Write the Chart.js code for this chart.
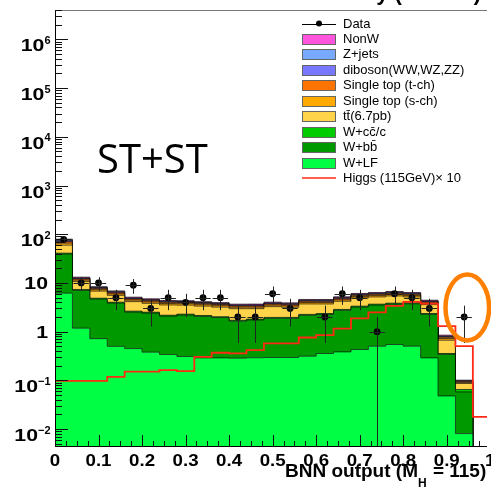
<!DOCTYPE html>
<html><head><meta charset="utf-8">
<script src="https://cdn.jsdelivr.net/npm/chart.js@4.4.1/dist/chart.umd.min.js"></script>
<style>html,body{margin:0;padding:0;background:#fff;overflow:hidden}canvas{display:block}</style>
</head><body>
<canvas id="c" width="491" height="490"></canvas>
<script>
// ---- data (25 bins of width 0.04 on the BNN output) ----
const binEdges = [0,0.04,0.08,0.12,0.16,0.20,0.24,0.28,0.32,0.36,0.40,0.44,0.48,0.52,0.56,0.60,0.64,0.68,0.72,0.76,0.80,0.84,0.88,0.92,0.96,1.00];
const wLF     = [6.17,1.18,0.72,0.50,0.45,0.38,0.34,0.31,0.29,0.29,0.286,0.292,0.295,0.295,0.314,0.357,0.385,0.431,0.504,0.546,0.504,0.290,0.048,0.0081,0];
const wbb     = [33.1,5.88,3.96,3.37,2.08,2.03,1.75,1.89,1.77,1.66,1.36,1.45,1.59,1.59,1.86,1.91,2.37,2.78,3.02,3.15,3.24,1.98,0.295,0.050,0];
const wcc     = [1.64,0.29,0.19,0.16,0.11,0.10,0.09,0.09,0.09,0.08,0.07,0.07,0.08,0.08,0.09,0.09,0.11,0.13,0.15,0.15,0.16,0.09,0.014,0.007,0];
const ttbar   = [18.8,3.30,1.93,1.54,1.50,1.31,1.36,1.22,1.20,1.16,1.25,1.16,1.30,1.20,1.45,1.35,1.34,1.59,1.50,1.57,1.27,1.23,0.312,0.0214,0];
const stopS   = [5.88,0.75,0.48,0.39,0.29,0.27,0.25,0.25,0.23,0.23,0.21,0.21,0.23,0.22,0.26,0.26,0.29,0.35,0.36,0.38,0.36,0.25,0.054,0.0044,0];
const stopT   = [4.90,0.63,0.40,0.33,0.24,0.23,0.21,0.21,0.20,0.19,0.18,0.18,0.19,0.19,0.22,0.22,0.25,0.29,0.30,0.32,0.30,0.21,0.045,0.0037,0];
const diboson = [2.94,0.38,0.24,0.20,0.15,0.14,0.12,0.12,0.12,0.11,0.11,0.11,0.12,0.11,0.13,0.13,0.15,0.17,0.18,0.19,0.18,0.13,0.027,0.0022,0];
const zjets   = [1.96,0.25,0.16,0.13,0.10,0.09,0.08,0.08,0.08,0.08,0.07,0.07,0.08,0.07,0.09,0.09,0.10,0.12,0.12,0.13,0.12,0.08,0.018,0.0015,0];
const nonW    = [3.92,0.50,0.32,0.26,0.19,0.18,0.17,0.16,0.16,0.15,0.14,0.14,0.15,0.15,0.17,0.17,0.20,0.23,0.24,0.25,0.24,0.17,0.036,0.0029,0];
const higgsX10 = [0.098,0.098,0.098,0.118,0.152,0.152,0.162,0.155,0.304,0.37,0.36,0.417,0.573,0.573,0.76,0.848,1.16,1.87,2.48,3.4,4.1,3.75,1.30,0.504,0.0178];
const dataCounts = [78,10,10,5,9,3,5,4,5,5,2,2,6,3,0,2,6,5,1,6,5,3,0,2,0];
const xTickValues = [0,0.1,0.2,0.3,0.4,0.5,0.6,0.7,0.8,0.9,1];
const xTickLabels = ['0','0.1','0.2','0.3','0.4','0.5','0.6','0.7','0.8','0.9','1'];
const yTickDecades = [-2,-1,0,1,2,3,4,5,6];

const stackDefs = [
  {label:'W+LF', values:wLF, color:'#00ff44'},
  {label:'W+b\u0062\u0304', values:wbb, color:'#009a00'},
  {label:'W+c\u0063\u0304/c', values:wcc, color:'#00cc00'},
  {label:'t\u0074\u0304(6.7pb)', values:ttbar, color:'#ffd44a'},
  {label:'Single top (s-ch)', values:stopS, color:'#ffaa00'},
  {label:'Single top (t-ch)', values:stopT, color:'#ff7300'},
  {label:'diboson(WW,WZ,ZZ)', values:diboson, color:'#7777ff'},
  {label:'Z+jets', values:zjets, color:'#77aaff'},
  {label:'NonW', values:nonW, color:'#ff55dd'}
];

const TINY = 1e-7;
const nBins = wLF.length;
const running = new Array(nBins).fill(0);
const datasets = [];
stackDefs.forEach((s, k) => {
  for (let i = 0; i < nBins; i++) running[i] += s.values[i];
  const cum = running.slice();
  datasets.push({
    label: s.label,
    data: binEdges.map((x, i) => ({x, y: Math.max(cum[Math.min(i, nBins - 1)], TINY)})),
    stepped: 'before',
    borderColor: 'rgba(0,0,0,0.85)',
    borderWidth: 0.8,
    backgroundColor: s.color,
    fill: k === 0 ? 'start' : '-1',
    pointRadius: 0,
    order: 10
  });
});
datasets.push({
  label: 'Higgs (115GeV)\u00d7 10',
  data: binEdges.map((x, i) => ({x, y: higgsX10[Math.min(i, nBins - 1)]})),
  stepped: 'before',
  borderColor: '#ff2a14',
  borderWidth: 1.8,
  fill: false,
  pointRadius: 0,
  order: 1
});
datasets.push({
  label: 'Data',
  data: dataCounts.map((n, i) => n > 0 ? {x: (binEdges[i] + binEdges[i+1]) / 2, y: n} : null).filter(Boolean),
  showLine: false,
  pointRadius: 3.4,
  pointBackgroundColor: '#000',
  pointBorderWidth: 0,
  order: 0
});

const errorBars = {
  id: 'errorBars',
  afterDatasetsDraw(chart) {
    const {ctx, chartArea: ca} = chart; const xs = chart.scales.x, ys = chart.scales.y;
    ctx.save(); ctx.beginPath(); ctx.rect(ca.left, ca.top, ca.right - ca.left, ca.bottom - ca.top); ctx.clip();
    ctx.strokeStyle = '#222'; ctx.lineWidth = 1;
    dataCounts.forEach((n, i) => {
      if (n <= 0) return;
      const e = Math.sqrt(n);
      const px = Math.round(xs.getPixelForValue((binEdges[i] + binEdges[i+1]) / 2)) + 0.5;
      const py = Math.round(ys.getPixelForValue(n)) + 0.5;
      const top = ys.getPixelForValue(n + e);
      const bot = (n - e) > 0 ? ys.getPixelForValue(n - e) : ca.bottom;
      ctx.beginPath();
      ctx.moveTo(px, top); ctx.lineTo(px, bot);
      ctx.moveTo(xs.getPixelForValue(binEdges[i]) + 1, py); ctx.lineTo(xs.getPixelForValue(binEdges[i+1]) - 1, py);
      ctx.stroke();
    });
    ctx.restore();
  }
};

function wideText(ctx, text, x, y, sx, align) {
  const w = ctx.measureText(text).width * sx;
  let left = x;
  if (align === 'right') left = x - w; else if (align === 'center') left = x - w / 2;
  ctx.save();
  ctx.textAlign = 'left';
  ctx.textBaseline = 'alphabetic';
  ctx.translate(left, y); ctx.scale(sx, 1);
  ctx.fillText(text, 0, 0);
  ctx.restore();
  return w;
}

const decor = {
  id: 'decor',
  afterDraw(chart) {
    const {ctx, chartArea: ca} = chart; const xs = chart.scales.x, ys = chart.scales.y;
    ctx.save();
    // frame
    ctx.strokeStyle = '#777'; ctx.lineWidth = 1;
    ctx.beginPath(); ctx.moveTo(ca.left, ca.top + 0.5); ctx.lineTo(ca.right, ca.top + 0.5); ctx.stroke();
    ctx.strokeStyle = '#000';
    ctx.beginPath(); ctx.moveTo(ca.left + 0.5, ca.top); ctx.lineTo(ca.left + 0.5, ca.bottom);
    ctx.moveTo(ca.left, ca.bottom - 0.5); ctx.lineTo(ca.right, ca.bottom - 0.5); ctx.stroke();
    // y ticks (inside)
    ctx.strokeStyle = '#111';
    ctx.beginPath();
    for (let d = -3; d <= 6; d++) {
      for (let m = 1; m <= 9; m++) {
        const v = m * Math.pow(10, d);
        if (v < ys.min || v > ys.max) continue;
        const py = Math.round(ys.getPixelForValue(v)) + 0.5;
        const len = m === 1 ? 13 : 7;
        ctx.moveTo(ca.left, py); ctx.lineTo(ca.left + len, py);
      }
    }
    // x ticks (inside)
    for (let k = 0; k <= 40; k++) {
      const v = k * 0.025;
      const px = Math.round(xs.getPixelForValue(v)) + 0.5;
      if (px > ca.right + 1) continue;
      const len = k % 4 === 0 ? 12 : 6;
      ctx.moveTo(px, ca.bottom); ctx.lineTo(px, ca.bottom - len);
    }
    ctx.stroke();
    // y labels
    ctx.fillStyle = '#000';
    const bold17 = 'bold 17px "Liberation Sans", Arial, sans-serif';
    yTickDecades.forEach(d => {
      const py = ys.getPixelForValue(Math.pow(10, d));
      if (d === 0 || d === 1) {
        ctx.font = bold17;
        wideText(ctx, d === 0 ? '1' : '10', 48, py + 6, 1.25, 'right');
      } else {
        ctx.font = 'bold 11px "Liberation Sans", Arial, sans-serif';
        const ex = String(d).replace('-', '\u2212');
        const ew = wideText(ctx, ex, 50.5, py + 4.5, 1.0, 'right');
        ctx.font = bold17;
        wideText(ctx, '10', 50.5 - ew, py + 12, 1.25, 'right');
      }
    });
    // x labels
    ctx.font = bold17;
    xTickValues.forEach((v, i) => {
      wideText(ctx, xTickLabels[i], xs.getPixelForValue(v), 466, 1.1, 'center');
    });
    // x title
    let tx = 285;
    ctx.font = 'bold 19px "Liberation Sans", Arial, sans-serif';
    tx += wideText(ctx, 'BNN output (M', tx, 476.5, 1.0, 'left');
    ctx.font = 'bold 12px "Liberation Sans", Arial, sans-serif';
    tx += wideText(ctx, 'H', tx, 486.5, 1.0, 'left');
    ctx.font = 'bold 19px "Liberation Sans", Arial, sans-serif';
    wideText(ctx, ' = 115)', tx + 1, 476.5, 1.0, 'left');
    // top title (only the descenders reach into the picture)
    ctx.font = 'bold 22px "Liberation Sans", Arial, sans-serif';
    wideText(ctx, 'CDF Run II Preliminary (5.7 fb\u207B\u00B9)', 481, 0, 1.0, 'right');
    // legend
    const legendRows = [
      {label: 'Data', type: 'data'},
      ...stackDefs.slice().reverse().map(s => ({label: s.label, type: 'box', color: s.color})),
      {label: 'Higgs (115GeV)\u00d7 10', type: 'line', color: '#ff2a14'}
    ];
    ctx.font = '13px "Liberation Sans", Arial, sans-serif';
    ctx.textAlign = 'left';
    ctx.textBaseline = 'middle';
    legendRows.forEach((r, i) => {
      const yc = 23.5 + i * 15.45;
      if (r.type === 'box') {
        ctx.fillStyle = r.color; ctx.fillRect(302, Math.round(yc - 5), 33, 10);
        ctx.strokeStyle = '#666'; ctx.lineWidth = 1; ctx.strokeRect(302.5, Math.round(yc - 5) + 0.5, 33, 10);
      } else if (r.type === 'line') {
        ctx.strokeStyle = r.color; ctx.lineWidth = 1.5;
        ctx.beginPath(); ctx.moveTo(302, yc); ctx.lineTo(336, yc); ctx.stroke();
      } else {
        ctx.strokeStyle = '#000'; ctx.lineWidth = 1;
        ctx.beginPath(); ctx.moveTo(302, Math.round(yc) + 0.5); ctx.lineTo(336, Math.round(yc) + 0.5); ctx.stroke();
        ctx.fillStyle = '#000'; ctx.beginPath(); ctx.arc(319, yc, 3, 0, Math.PI * 2); ctx.fill();
      }
      ctx.fillStyle = '#000';
      ctx.fillText(r.label, 343, yc + 0.5);
    });
    // annotation text
    ctx.textBaseline = 'alphabetic';
    ctx.font = '40px "Open Sans", sans-serif';
    ctx.fillText('ST+ST', 97, 173);
    // orange ellipse
    ctx.strokeStyle = '#ff8000'; ctx.lineWidth = 4.5;
    ctx.beginPath(); ctx.ellipse(467.3, 307.5, 21.8, 33, 0, 0, Math.PI * 2); ctx.stroke();
    ctx.restore();
  }
};

new Chart(document.getElementById('c'), {
  type: 'line',
  data: {datasets},
  options: {
    responsive: false,
    animation: false,
    devicePixelRatio: 1,
    layout: {padding: {left: 55, top: 10, right: 0, bottom: 43}},
    scales: {
      x: {type: 'linear', min: 0, max: 0.9925, display: false},
      y: {type: 'logarithmic', min: 0.0043, max: 4e6, display: false}
    },
    plugins: {legend: {display: false}, tooltip: {enabled: false}},
    elements: {line: {tension: 0}}
  },
  plugins: [errorBars, decor]
});
</script>
</body></html>
